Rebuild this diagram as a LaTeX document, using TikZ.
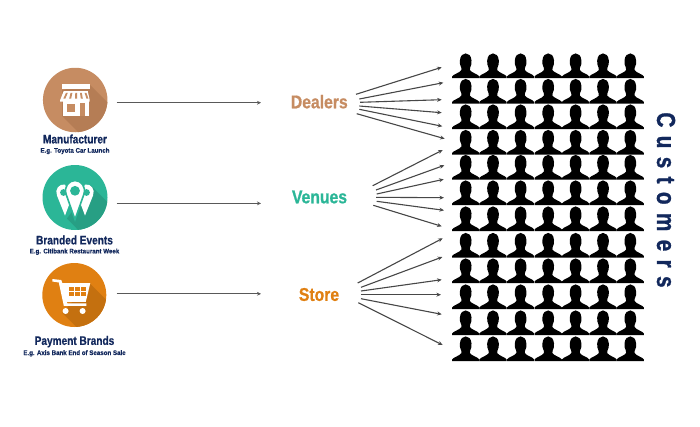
\documentclass[tikz,border=0pt]{standalone}
\usepackage{fontspec}
\setmainfont{Liberation Sans}
\newfontfamily\condT{Liberation Sans}[FakeStretch=0.82,FakeBold=0.5]
\newfontfamily\condS{Liberation Sans}[FakeStretch=0.92,FakeBold=0.25]
\newfontfamily\condC{Liberation Sans}[FakeStretch=0.85,FakeBold=0.8]
\newfontfamily\spaced{Liberation Sans}[FakeStretch=0.8,LetterSpace=32,FakeBold=1]
\usetikzlibrary{arrows.meta}
\definecolor{tan}{HTML}{C68C62}
\definecolor{tandark}{HTML}{B57D55}
\definecolor{teal}{HTML}{2BB697}
\definecolor{tealdark}{HTML}{279F84}
\definecolor{orng}{HTML}{E08012}
\definecolor{orngdark}{HTML}{C4700F}
\definecolor{navy}{HTML}{12285C}
\tikzset{
  link/.style={draw=black!72,line width=1.1pt,-{Stealth[length=4.6pt,width=4pt]}},
  mainlink/.style={draw=black!65,line width=1.1pt,-{Stealth[length=4pt,width=3.8pt]}},
  title/.style={font=\condT\bfseries\fontsize{12.3}{13}\selectfont,text=navy,inner sep=0pt},
  sub/.style={font=\condS\bfseries\fontsize{6.7}{7}\selectfont,text=navy,inner sep=0pt},
  channel/.style={font=\condC\bfseries\fontsize{18.5}{20}\selectfont,inner sep=0pt},
  person/.pic={\fill[black]
    (-13.6,0) -- (-13.6,-1.6) .. controls (-12.6,-3) and (-11,-3.6) .. (-9,-4.6)
    .. controls (-7,-5.6) and (-5,-6.6) .. (-4.2,-8)
    .. controls (-4,-8.8) and (-4.1,-9.4) .. (-4.4,-10.2)
    .. controls (-5.8,-12.5) and (-6,-15) .. (-5.8,-17.5)
    .. controls (-5.4,-22.5) and (-2.8,-24.6) .. (0,-24.6)
    .. controls (2.8,-24.6) and (5.4,-22.5) .. (5.8,-17.5)
    .. controls (6,-15) and (5.8,-12.5) .. (4.4,-10.2)
    .. controls (4.1,-9.4) and (4,-8.8) .. (4.2,-8)
    .. controls (5,-6.6) and (7,-5.6) .. (9,-4.6)
    .. controls (11,-3.6) and (12.6,-3) .. (13.6,-1.6) -- (13.6,0) -- cycle;}
}
\begin{document}
\begin{tikzpicture}[x=1pt,y=-1pt]
\useasboundingbox (0,0) rectangle (700,426);

% people grid
\foreach \yy in {78,103.5,129,154.5,179.5,205,231,257.5,283,309,335,361}
  \foreach \xx in {465.7,493,520.6,548.2,575.6,603,630.3}
    \pic at (\xx,\yy) {person};

% Manufacturer
\node[circle,fill=tan,minimum size=64.5pt,inner sep=0pt] (manu) at (75.2,100) {};
\begin{scope}[shift={(75.2,100)}]
  \begin{scope}
    \clip (0,0) circle (32.2);
    \fill[tandark] (14.5,-15.5) -- (60,30) -- (31,60) -- (-13,16) -- (-13,-10) -- cycle;
  \end{scope}
  \fill[white] (-13.3,-15.7) rectangle (14.3,-10.8);
  \fill[white] (-12,0) rectangle (14,16);
  \fill[tan] (-8.5,4) rectangle (0,12.3);
  \fill[tan] (4.5,3) rectangle (9.5,16);
  \fill[white] (-11.5,-9) -- (12.5,-9) -- (14.5,0) -- (14.5,1.5) -- (-15,1.5) -- (-15,0) -- cycle;
  \foreach \a/\b in {-8.3/-10.8,-3.7/-5,1/0.8,5.7/6.6,10.3/12.2}
    \fill[tan] (\a-0.9,-7.2) -- (\a+0.9,-7.2) -- (\b+1,-1.5) -- (\b-1,-1.5) -- cycle;
\end{scope}
\node[title] (manut) at (75,139) {Manufacturer};
\node[sub] (manus) at (75,151) {E.g. Toyota Car Launch};

% Branded Events
\node[circle,fill=teal,minimum size=65pt,inner sep=0pt] (brand) at (75,197.5) {};
\begin{scope}[shift={(75,197.5)}]
  \begin{scope}
    \clip (0,0) circle (32.5);
    \fill[tealdark] (16,-12) -- (60,32) -- (30,60) -- (-8,21) -- cycle;
  \end{scope}
  \fill[white] (-10,18) -- (-18,-2) .. controls (-20.5,-8) and (-16,-14) .. (-10,-13) -- (-4,2) -- cycle;
  \fill[white] (10,18) -- (18,-2) .. controls (20.5,-8) and (16,-14) .. (10,-13) -- (4,2) -- cycle;
  \fill[teal] (-11.5,-5) circle (3.4);
  \fill[teal] (11.5,-5) circle (3.4);
  \fill[white,draw=teal,line width=1.6pt] (0,22) -- (-8.8,-3) .. controls (-11.5,-11) and (-6,-17) .. (0,-17)
     .. controls (6,-17) and (11.5,-11) .. (8.8,-3) -- cycle;
  \fill[teal] (0,-6.7) circle (4.9);
\end{scope}
\node[title] (brandt) at (74.5,240) {Branded Events};
\node[sub] (brands) at (74.5,251.7) {E.g. Citibank Restaurant Week};

% Payment Brands
\node[circle,fill=orng,minimum size=64pt,inner sep=0pt] (pay) at (74.3,295) {};
\begin{scope}[shift={(74.3,295)}]
  \begin{scope}
    \clip (0,0) circle (32);
    \fill[orngdark] (15,-12) -- (60,33) -- (30,60) -- (-12,18) -- cycle;
  \end{scope}
  \fill[white] (-22,-16) -- (-13,-15) -- (-12,-12) -- (16,-12) -- (11.5,6.8) -- (-7.5,6.8) -- (-7,8.4) -- (12,8.4) -- (12,10.8) -- (-10.5,10.8) -- (-15.5,-12.5) -- (-22,-13.5) -- cycle;
  \foreach \cxa/\cxb in {-5.5/0,1/5.6,6.6/12}
    \foreach \cya/\cyb in {-8/-4,-2.8/1.2}
      \fill[orng] (\cxa,\cya) rectangle (\cxb,\cyb);
  \fill[white] (-8.7,16) circle (3);
  \fill[white] (8.3,16) circle (3);
\end{scope}
\node[title] (payt) at (74.5,341.7) {Payment Brands};
\node[sub] (pays) at (74.5,353.3) {E.g. Axis Bank End of Season Sale};

% channels
\node[channel,text=tan] (dealers) at (319.3,101.7) {Dealers};
\node[channel,text=teal] (venues) at (319.5,197) {Venues};
\node[channel,text=orng] (store) at (319,294.5) {Store};

% main arrows
\coordinate (m1a) at (116.7,102.7); \coordinate (m1b) at (261,102.7);
\coordinate (m2a) at (116.7,203.4); \coordinate (m2b) at (261,203.4);
\coordinate (m3a) at (116.7,293.8); \coordinate (m3b) at (261,293.8);
\draw[mainlink] (m1a) -- (m1b);
\draw[mainlink] (m2a) -- (m2b);
\draw[mainlink] (m3a) -- (m3b);

% fan arrows
\foreach \n/\sx/\sy/\ex/\ey in {
 d1/356/94.3/441.7/67.3, d2/359.3/99/443.3/82.7, d3/360/102.3/441.7/99.7,
 d4/359.3/106/441.7/112.7, d5/359.3/109.3/442.3/126.3, d6/356.7/113.7/444.7/138.7,
 v1/372.7/185.7/442.7/150, v2/376/190/444.3/165.3, v3/376.7/194/443.7/179.3,
 v4/376/197.3/444/197.7, v5/376.7/201.3/444/210.3, v6/373.3/205.3/441.7/226.3,
 s1/357.7/283/442.7/238.3, s2/361/287.3/442.3/257, s3/361/291/441.7/279.7,
 s4/361/294.7/441/294.7, s5/361/298.7/441.7/314.3, s6/358.3/302.7/442.7/345}{
  \coordinate (\n a) at (\sx,\sy);
  \coordinate (\n b) at (\ex,\ey);
  \draw[link] (\n a) -- (\n b);
}

% side label
\node[rotate=-90,text=navy,inner sep=0pt,font=\spaced\bfseries\fontsize{26}{28}\selectfont] (cust) at (666,200) {Customers};
\end{tikzpicture}
\end{document}
